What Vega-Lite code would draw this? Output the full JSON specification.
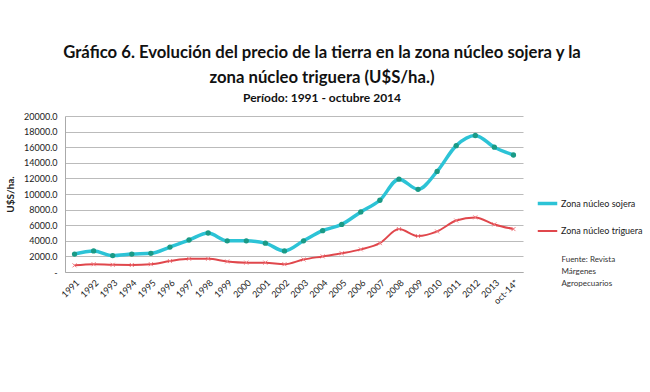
{
  "$schema": "https://vega.github.io/schema/vega-lite/v6.json",
  "width": 458,
  "height": 156,
  "autosize": {"type": "none"},
  "padding": {"left": 65, "top": 116, "right": 127, "bottom": 120},
  "background": "white",
  "title": {
    "text": ["Gráfico 6. Evolución del precio de la tierra en la zona núcleo sojera y la", "zona núcleo triguera (U$S/ha.)"],
    "subtitle": "Período: 1991 - octubre 2014",
    "anchor": "middle",
    "frame": "group",
    "dx": 28,
    "offset": 8,
    "font": "Lato",
    "fontSize": 16.7,
    "fontWeight": "bold",
    "color": "#111",
    "lineHeight": 25,
    "subtitleFont": "Lato",
    "subtitleFontSize": 12,
    "subtitleFontWeight": "bold",
    "subtitleColor": "#111",
    "subtitlePadding": 6
  },
  "datasets": {
    "prices": [
      {"year": "1991", "serie": "Zona núcleo sojera", "value": 2300},
      {"year": "1992", "serie": "Zona núcleo sojera", "value": 2700},
      {"year": "1993", "serie": "Zona núcleo sojera", "value": 2100},
      {"year": "1994", "serie": "Zona núcleo sojera", "value": 2300},
      {"year": "1995", "serie": "Zona núcleo sojera", "value": 2400},
      {"year": "1996", "serie": "Zona núcleo sojera", "value": 3200},
      {"year": "1997", "serie": "Zona núcleo sojera", "value": 4100},
      {"year": "1998", "serie": "Zona núcleo sojera", "value": 5000},
      {"year": "1999", "serie": "Zona núcleo sojera", "value": 4000},
      {"year": "2000", "serie": "Zona núcleo sojera", "value": 4000},
      {"year": "2001", "serie": "Zona núcleo sojera", "value": 3700},
      {"year": "2002", "serie": "Zona núcleo sojera", "value": 2700},
      {"year": "2003", "serie": "Zona núcleo sojera", "value": 4000},
      {"year": "2004", "serie": "Zona núcleo sojera", "value": 5300},
      {"year": "2005", "serie": "Zona núcleo sojera", "value": 6100},
      {"year": "2006", "serie": "Zona núcleo sojera", "value": 7700},
      {"year": "2007", "serie": "Zona núcleo sojera", "value": 9200},
      {"year": "2008", "serie": "Zona núcleo sojera", "value": 11900},
      {"year": "2009", "serie": "Zona núcleo sojera", "value": 10600},
      {"year": "2010", "serie": "Zona núcleo sojera", "value": 12900},
      {"year": "2011", "serie": "Zona núcleo sojera", "value": 16200},
      {"year": "2012", "serie": "Zona núcleo sojera", "value": 17500},
      {"year": "2013", "serie": "Zona núcleo sojera", "value": 16000},
      {"year": "oct-14*", "serie": "Zona núcleo sojera", "value": 15000},
      {"year": "1991", "serie": "Zona núcleo triguera", "value": 850},
      {"year": "1992", "serie": "Zona núcleo triguera", "value": 1000},
      {"year": "1993", "serie": "Zona núcleo triguera", "value": 920},
      {"year": "1994", "serie": "Zona núcleo triguera", "value": 900},
      {"year": "1995", "serie": "Zona núcleo triguera", "value": 1000},
      {"year": "1996", "serie": "Zona núcleo triguera", "value": 1400},
      {"year": "1997", "serie": "Zona núcleo triguera", "value": 1700},
      {"year": "1998", "serie": "Zona núcleo triguera", "value": 1700},
      {"year": "1999", "serie": "Zona núcleo triguera", "value": 1350},
      {"year": "2000", "serie": "Zona núcleo triguera", "value": 1200},
      {"year": "2001", "serie": "Zona núcleo triguera", "value": 1200},
      {"year": "2002", "serie": "Zona núcleo triguera", "value": 1000},
      {"year": "2003", "serie": "Zona núcleo triguera", "value": 1600},
      {"year": "2004", "serie": "Zona núcleo triguera", "value": 2000},
      {"year": "2005", "serie": "Zona núcleo triguera", "value": 2400},
      {"year": "2006", "serie": "Zona núcleo triguera", "value": 2900},
      {"year": "2007", "serie": "Zona núcleo triguera", "value": 3700},
      {"year": "2008", "serie": "Zona núcleo triguera", "value": 5500},
      {"year": "2009", "serie": "Zona núcleo triguera", "value": 4600},
      {"year": "2010", "serie": "Zona núcleo triguera", "value": 5200},
      {"year": "2011", "serie": "Zona núcleo triguera", "value": 6600},
      {"year": "2012", "serie": "Zona núcleo triguera", "value": 7000},
      {"year": "2013", "serie": "Zona núcleo triguera", "value": 6100},
      {"year": "oct-14*", "serie": "Zona núcleo triguera", "value": 5500}
    ],
    "note": [
      {"year": "oct-14*", "value": 2100, "text": ["Fuente:  Revista", "Márgenes", "Agropecuarios"]}
    ]
  },
  "config": {
    "view": {"stroke": null},
    "font": "Lato",
    "axis": {"labelFont": "Lato", "titleFont": "Lato", "labelColor": "#222", "titleColor": "#222"}
  },
  "encoding": {
    "x": {
      "field": "year", "type": "ordinal", "title": null,
      "sort": null,
      "scale": {"type": "point", "padding": 0.5},
      "axis": {"labelAngle": -45, "labelFontSize": 9, "domainColor": "#aaa", "ticks": false, "labelPadding": 6, "grid": false, "labelOverlap": false}
    },
    "y": {
      "field": "value", "type": "quantitative",
      "scale": {"domain": [0, 20000], "nice": false},
      "axis": {
        "values": [0, 2000, 4000, 6000, 8000, 10000, 12000, 14000, 16000, 18000, 20000],
        "labelExpr": "datum.value == 0 ? '-' : format(datum.value, '.1f')",
        "labelOverlap": false,
        "labelFontSize": 9, "title": "U$S/ha.", "titleFontSize": 10, "titleFontWeight": "bold",
        "titlePadding": 8, "ticks": false, "domainColor": "#aaa", "gridColor": "#bbb", "labelPadding": 8
      }
    }
  },
  "layer": [
    {
      "data": {"name": "prices"},
      "mark": {"type": "line", "interpolate": "monotone"},
      "encoding": {
        "color": {
          "field": "serie", "type": "nominal",
          "scale": {"domain": ["Zona núcleo sojera", "Zona núcleo triguera"], "range": ["#2cc3d6", "#e0474c"]},
          "legend": {
            "title": null, "orient": "none", "legendX": 471, "legendY": 76,
            "symbolType": "stroke", "symbolSize": 380, "symbolStrokeWidth": 3,
            "labelFontSize": 9, "labelColor": "#222", "rowPadding": 9, "labelOffset": 2
          }
        },
        "strokeWidth": {
          "field": "serie", "type": "nominal",
          "scale": {"domain": ["Zona núcleo sojera", "Zona núcleo triguera"], "range": [3.5, 2]},
          "legend": null
        }
      }
    },
    {
      "data": {"name": "prices"},
      "transform": [{"filter": "datum.serie == 'Zona núcleo sojera'"}],
      "mark": {"type": "point", "filled": true, "size": 28, "color": "#1a9a86", "opacity": 1}
    },
    {
      "data": {"name": "prices"},
      "transform": [{"filter": "datum.serie == 'Zona núcleo triguera'"}],
      "mark": {"type": "point", "shape": "M-1,-1L1,1M-1,1L1,-1", "size": 16, "color": "#f07a80", "strokeWidth": 1, "opacity": 1}
    },
    {
      "data": {"name": "note"},
      "mark": {"type": "text", "align": "left", "baseline": "top", "dx": 48, "fontSize": 8, "lineHeight": 12, "color": "#333", "font": "Lato"},
      "encoding": {
        "text": {"field": "text"}
      }
    }
  ]
}
